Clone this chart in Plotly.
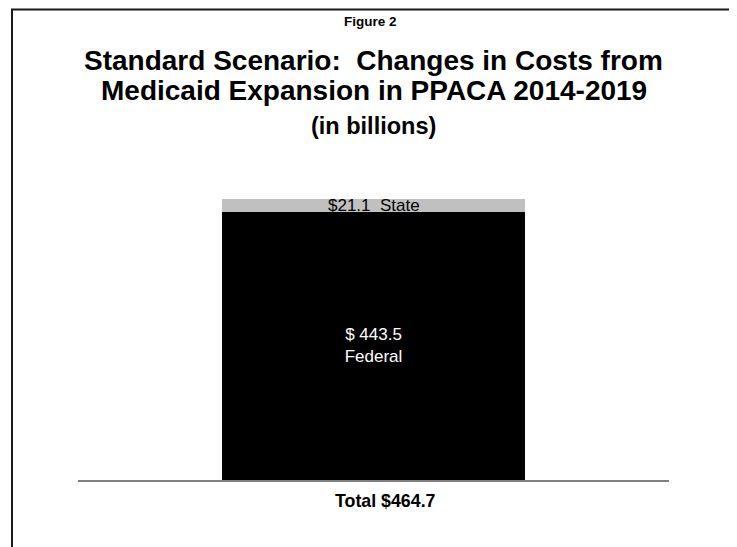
import plotly.graph_objects as go

categories = ["Total $464.7"]
federal = [443.5]
state = [21.1]
federal_labels = ["$ 443.5<br>Federal"]
state_labels = ["$21.1  State"]

FONT = "Liberation Sans, Arial, sans-serif"

# page has an 8px body margin; figure sized to fit the window
OFF = 8
W, H = 737 - OFF, 547 - OFF
# plot area in page pixels
PL, PR, PT, PB = 78, 669, 180, 480
L, R, T, B = PL - OFF, W - (PR - OFF), PT - OFF, H - (PB - OFF)
PW, PH = PR - PL, PB - PT


def px(x):
    return (x - PL) / PW


def py(y):
    return (PB - y) / PH


fig = go.Figure()
fig.add_trace(go.Bar(
    x=categories, y=federal, marker=dict(color="#000000", line=dict(width=0)),
    text=federal_labels, textposition="inside", insidetextanchor="middle",
    textfont=dict(color="white", size=17, family=FONT), width=0.513,
    hoverinfo="skip",
))
fig.add_trace(go.Bar(
    x=categories, y=state, marker=dict(color="#c0c0c0", line=dict(width=0)),
    width=0.513, hoverinfo="skip",
))


def a(x, y, text, size, **kw):
    d = dict(x=x, y=y, xref="paper", yref="paper", text=text, showarrow=False,
             xanchor="center", yanchor="middle",
             font=dict(size=size, color="black", family=FONT))
    d.update(kw)
    return d


ann = [
    dict(x=categories[0], y=federal[0] + state[0] / 2, xref="x", yref="y",
         text=state_labels[0], showarrow=False, xanchor="center", yanchor="middle",
         font=dict(size=17, color="black", family=FONT)),
    a(px(370), py(21.5), "<b>Figure 2</b>", 13.5),
    a(0.5, py(61), "<b>Standard Scenario:  Changes in Costs from</b>", 28),
    a(0.5, py(90.5), "<b>Medicaid Expansion in PPACA 2014-2019</b>", 28),
    a(0.5, py(125.5), "<b>(in billions)</b>", 23.5),
    a(px(385.5), py(501), "<b>" + categories[0] + "</b>", 17.8),
]

fig.update_layout(
    width=W, height=H, barmode="stack", showlegend=False,
    margin=dict(l=L, r=R, t=T, b=B, pad=0),
    paper_bgcolor="white", plot_bgcolor="white",
    font=dict(family=FONT),
    xaxis=dict(range=[-0.5, 0.5], showline=True, linecolor="#808080", linewidth=1.5,
               showticklabels=False, ticks="", showgrid=False, zeroline=False, fixedrange=True),
    yaxis=dict(range=[0, 496], visible=False, showgrid=False, zeroline=False, fixedrange=True),
    annotations=ann,
    shapes=[dict(type="rect", xref="paper", yref="paper",
                 x0=px(12), x1=px(733), y0=py(580), y1=py(9.5),
                 line=dict(color="#1a1a1a", width=2), fillcolor="rgba(0,0,0,0)", layer="above")],
)

fig.write_html("out.html", config={"displayModeBar": False})
